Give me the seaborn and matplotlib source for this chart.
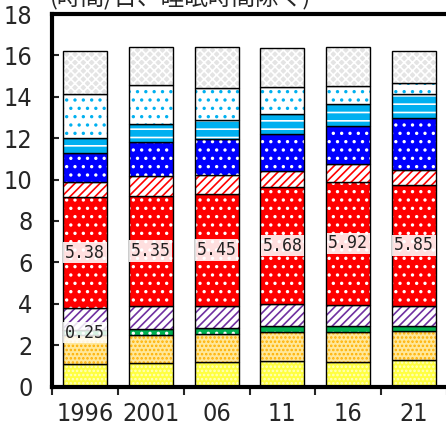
import numpy as np
import pandas as pd
import matplotlib.pyplot as plt
import seaborn as sns

sns.set_style("white")
plt.rcParams['font.family'] = ['DejaVu Sans']
plt.rcParams['font.stretch'] = 'condensed'
plt.rcParams['hatch.linewidth'] = 1.2

years = ['1996', '2001', '06', '11', '16', '21']

# segments, bottom to top (hours per day)
yellow_dots = [1.08, 1.12, 1.16, 1.21, 1.16, 1.26]
orange_dots = [1.40, 1.39, 1.40, 1.43, 1.45, 1.43]
green_dots = [0.25, 0.29, 0.29, 0.30, 0.32, 0.24]
purple_hatch = [1.04, 1.07, 1.02, 1.03, 1.03, 0.96]
red_dots = [5.38, 5.35, 5.45, 5.68, 5.92, 5.85]
red_hatch = [0.72, 0.96, 0.91, 0.77, 0.88, 0.72]
blue_dots = [1.43, 1.65, 1.73, 1.80, 1.84, 2.53]
cyan_dash = [0.69, 0.84, 0.92, 0.96, 1.05, 1.13]
white_cyan_dots = [2.15, 1.89, 1.55, 1.30, 0.88, 0.53]
gray_check = [2.07, 1.83, 1.99, 1.87, 1.89, 1.55]

red_labels = ['5.38', '5.35', '5.45', '5.68', '5.92', '5.85']

# (values, face colour, hatch, hatch colour)
layers = [
    (yellow_dots, '#ffff40', '....', '#ffffc0'),
    (orange_dots, '#ffe89a', '....', '#ffb000'),
    (green_dots, '#00b050', '..', 'white'),
    (purple_hatch, 'white', '////', '#7030a0'),
    (red_dots, '#ff0000', '..', 'white'),
    (red_hatch, 'white', '////', '#ff0000'),
    (blue_dots, '#0000ff', '..', 'white'),
    (cyan_dash, '#00b0f0', '--', 'white'),
    (white_cyan_dots, 'white', '..', '#00b0f0'),
    (gray_check, '#e4e4e4', 'xxxx', 'white'),
]

fig = plt.figure(figsize=(4.46, 4.32), dpi=100)
ax = fig.add_axes([52 / 446, 45.5 / 432, 395 / 446, 372.5 / 432])

bottom = np.zeros(len(years))
red_bottom = None
for vals, fc, hatch, hc in layers:
    vals = np.array(vals)
    sns.barplot(x=years, y=vals, bottom=bottom, color=fc, saturation=1,
                hatch=hatch, edgecolor=hc, linewidth=0, width=0.67,
                errorbar=None, ax=ax)
    sns.barplot(x=years, y=vals, bottom=bottom, color='black', fill=False,
                linewidth=1.0, width=0.67, errorbar=None, ax=ax)
    if fc == '#ff0000':
        red_bottom = bottom.copy()
    bottom = bottom + vals

mono = ['DejaVu Sans Mono']
for i, lab in enumerate(red_labels):
    ax.text(i, red_bottom[i] + red_dots[i] / 2, lab, ha='center', va='center',
            fontsize=12, family=mono, color='#222222',
            bbox=dict(boxstyle='square,pad=0.1', fc='white', ec='none', alpha=0.88))

green_base = np.array(yellow_dots) + np.array(orange_dots)
ax.text(0, green_base[0] + green_dots[0] / 2, f'{green_dots[0]:.2f}', ha='center',
        va='center', fontsize=12, family=mono, color='#222222',
        bbox=dict(boxstyle='square,pad=0.1', fc='white', ec='none', alpha=0.85))

ax.set_xlim(-0.5, 5.5)
ax.set_ylim(0, 18)
ax.set_yticks(range(0, 19, 2))
ax.set_xticks(range(len(years)))
ax.set_xticklabels(years)
ax.set_xticks(np.arange(-0.5, 6, 1), minor=True)
ax.set_xlabel('')
ax.set_ylabel('')

ax.tick_params(axis='y', direction='in', length=5, width=1.5, labelsize=18, pad=14, left=True)
ax.tick_params(axis='x', which='major', length=0, labelsize=18, pad=11)
ax.tick_params(axis='x', which='minor', direction='out', length=6, width=1.5, bottom=True)

for side in ['left', 'top', 'bottom']:
    ax.spines[side].set_linewidth(3)
    ax.spines[side].set_color('black')
ax.spines['right'].set_linewidth(1.5)
ax.spines['right'].set_color('black')

fig.text(50 / 446, 1 - 5 / 432, '(時間/日、睡眠時間除く)', va='baseline', ha='left',
         fontsize=17, family=['Noto Sans CJK JP', 'DejaVu Sans'])

fig.savefig('out.png', dpi=100)
